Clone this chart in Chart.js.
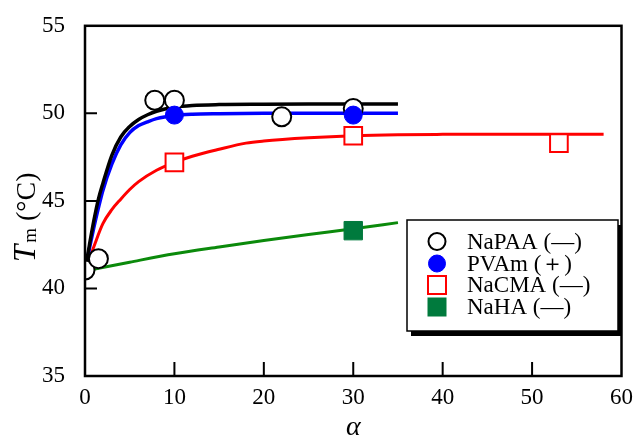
<!DOCTYPE html>
<html>
<head>
<meta charset="utf-8">
<script src="https://cdn.jsdelivr.net/npm/chart.js@4/dist/chart.umd.min.js"></script>
<style>
  html, body { margin: 0; padding: 0; background: #fff; }
  #wrap { width: 636px; height: 440px; }
</style>
</head>
<body>
<div id="wrap"><canvas id="chart" width="636" height="440"></canvas></div>
<script>
// measured points
const alphaNaPAA = [0, 1.5, 7.8, 10, 22, 30];
const tmNaPAA = [41.05, 41.7, 50.75, 50.75, 49.8, 50.28];
const alphaPVAm = [10, 30];
const tmPVAm = [49.9, 49.9];
const alphaNaCMA = [10, 30, 53];
const tmNaCMA = [47.2, 48.72, 48.3];
const alphaNaHA = [30];
const tmNaHA = [43.3];

// fitted curves
const fitAlphaNaPAA = [0, 0.5, 1, 1.5, 2, 3, 4, 5, 6, 7, 8, 10, 12, 15, 20, 25, 30, 35];
const fitTmNaPAA = [41.0, 42.5, 43.9, 45.1, 46.0, 47.6, 48.65, 49.25, 49.65, 49.92, 50.12, 50.35, 50.45, 50.5, 50.52, 50.53, 50.53, 50.53];
const fitAlphaPVAm = [0, 0.5, 1, 1.5, 2, 3, 4, 5, 6, 7, 8, 10, 12, 15, 20, 25, 30, 35];
const fitTmPVAm = [41.0, 42.3, 43.5, 44.6, 45.6, 47.1, 48.2, 48.9, 49.3, 49.52, 49.7, 49.88, 49.95, 49.98, 50.0, 50.0, 50.0, 50.0];
const fitAlphaNaCMA = [0, 1, 2, 3, 4, 5, 6, 8, 10, 12, 15, 18, 20, 25, 30, 35, 40, 50, 58];
const fitTmNaCMA = [41.0, 42.4, 43.7, 44.5, 45.1, 45.65, 46.1, 46.75, 47.2, 47.55, 47.95, 48.3, 48.42, 48.6, 48.72, 48.78, 48.8, 48.81, 48.81];
const fitAlphaNaHA = [0, 5, 10, 15, 20, 25, 30, 35];
const fitTmNaHA = [41.0, 41.5, 41.98, 42.37, 42.74, 43.08, 43.41, 43.76];

const xTicks = [0, 10, 20, 30, 40, 50, 60];
const yTicks = [35, 40, 45, 50, 55];

const legendLabels = ['NaPAA (—)', 'PVAm (＋)', 'NaCMA (—)', 'NaHA (—)'];

const SERIF = '"Liberation Serif", "Times New Roman", serif';

function pts(xs, ys) {
  return xs.map((x, i) => ({ x: x, y: ys[i] }));
}

function curve(xs, ys, color, width) {
  return {
    data: pts(xs, ys),
    showLine: true,
    borderColor: color,
    borderWidth: width,
    pointRadius: 0,
    cubicInterpolationMode: 'monotone',
    order: 10
  };
}

const markers = [
  { data: pts(alphaNaPAA, tmNaPAA), pointStyle: 'circle', pointRadius: 9.5, borderColor: '#000', backgroundColor: '#fff', borderWidth: 2, order: 2 },
  { data: pts(alphaPVAm, tmPVAm), pointStyle: 'circle', pointRadius: 9, borderColor: '#0000ff', backgroundColor: '#0000ff', borderWidth: 1, order: 1 },
  { data: pts(alphaNaCMA, tmNaCMA), pointStyle: 'rect', pointRadius: 12.5, borderColor: '#ff0000', backgroundColor: '#fff', borderWidth: 2, order: 3 },
  { data: pts(alphaNaHA, tmNaHA), pointStyle: 'rect', pointRadius: 13, borderColor: '#007a3d', backgroundColor: '#007a3d', borderWidth: 1, order: 4 }
];

// frame, inward ticks, y title and boxed legend
const decorations = {
  id: 'decorations',
  afterDraw(chart) {
    const ctx = chart.ctx;
    const a = chart.chartArea;
    const xs = chart.scales.x, ys = chart.scales.y;
    ctx.save();
    ctx.strokeStyle = '#000';
    ctx.lineWidth = 2.5;
    ctx.strokeRect(a.left, a.top, a.right - a.left, a.bottom - a.top);

    ctx.lineWidth = 2;
    ctx.beginPath();
    xTicks.slice(1, -1).forEach(v => {
      const px = xs.getPixelForValue(v);
      ctx.moveTo(px, a.bottom);
      ctx.lineTo(px, a.bottom - 14);
    });
    yTicks.slice(1, -1).forEach(v => {
      const py = ys.getPixelForValue(v);
      ctx.moveTo(a.left, py);
      ctx.lineTo(a.left + 12, py);
    });
    ctx.stroke();

    // y title: T_m (°C), read bottom to top
    ctx.save();
    ctx.translate(35, 262);
    ctx.rotate(-Math.PI / 2);
    ctx.fillStyle = '#000';
    ctx.textBaseline = 'alphabetic';
    ctx.font = 'italic 31px ' + SERIF;
    ctx.fillText('T', 0, 0);
    let off = ctx.measureText('T').width + 2;
    ctx.font = '19px ' + SERIF;
    ctx.fillText('m', off, 1);
    off += ctx.measureText('m').width + 7;
    ctx.font = '28px ' + SERIF;
    ctx.fillText('(°C)', off, 0);
    ctx.restore();

    // legend box with drop shadow
    const bx = 407, by = 220, bw = 211, bh = 111;
    ctx.fillStyle = '#000';
    ctx.fillRect(bx + 4, by + 5, bw, bh);
    ctx.fillStyle = '#fff';
    ctx.fillRect(bx, by, bw, bh);
    ctx.lineWidth = 1.5;
    ctx.strokeRect(bx, by, bw, bh);

    const rowY = [241.5, 263.5, 285, 307];
    const sx = 437;
    chart.data.datasets.slice(4).forEach((ds, i) => {
      const y = rowY[i];
      ctx.lineWidth = ds.borderWidth;
      ctx.strokeStyle = ds.borderColor;
      ctx.fillStyle = ds.backgroundColor;
      if (ds.pointStyle === 'circle') {
        ctx.beginPath();
        ctx.arc(sx, y, 8.5, 0, Math.PI * 2);
        ctx.fill();
        ctx.stroke();
      } else {
        ctx.fillRect(sx - 9, y - 9, 18, 18);
        ctx.strokeRect(sx - 9, y - 9, 18, 18);
      }
      ctx.fillStyle = '#000';
      ctx.font = '23px ' + SERIF;
      ctx.textBaseline = 'middle';
      ctx.fillText(legendLabels[i], 467, y + 1);
    });
    ctx.restore();
  }
};

new Chart(document.getElementById('chart'), {
  type: 'scatter',
  data: {
    datasets: [
      curve(fitAlphaNaPAA, fitTmNaPAA, '#000', 3.5),
      curve(fitAlphaPVAm, fitTmPVAm, '#0000ff', 3.5),
      curve(fitAlphaNaCMA, fitTmNaCMA, '#ff0000', 3),
      curve(fitAlphaNaHA, fitTmNaHA, '#0b8a0b', 3),
      ...markers
    ]
  },
  options: {
    responsive: false,
    animation: false,
    layout: { padding: { left: 0, right: 14, top: 21, bottom: 0 } },
    plugins: { legend: { display: false }, tooltip: { enabled: false } },
    scales: {
      x: {
        type: 'linear',
        min: 0, max: 60,
        afterBuildTicks: s => { s.ticks = xTicks.map(v => ({ value: v })); },
        afterFit: s => { s.height = 64; },
        grid: { display: false },
        border: { display: false },
        ticks: { color: '#000', padding: 0, font: { family: SERIF, size: 23 }, maxRotation: 0 },
        title: { display: true, text: 'α', color: '#000', padding: { top: 0, bottom: 0 }, font: { family: SERIF, size: 28, style: 'italic', lineHeight: 0.9 } }
      },
      y: {
        type: 'linear',
        min: 35, max: 55,
        afterBuildTicks: s => { s.ticks = yTicks.map(v => ({ value: v })); },
        afterFit: s => { s.width = 85; },
        grid: { display: false },
        border: { display: false },
        ticks: { color: '#000', padding: 12, font: { family: SERIF, size: 23 } }
      }
    }
  },
  plugins: [decorations]
});
</script>
</body>
</html>
